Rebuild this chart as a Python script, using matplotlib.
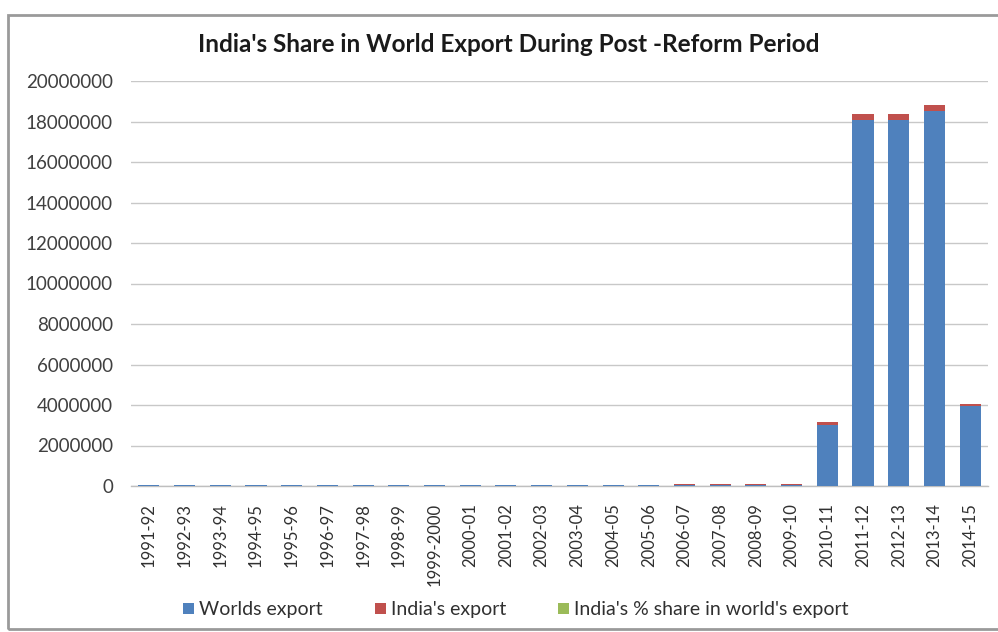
import matplotlib
matplotlib.use("Agg")
import matplotlib.pyplot as plt
from matplotlib.patches import Rectangle
import numpy as np

plt.rcParams['font.family'] = ['Lato', 'DejaVu Sans']

years = ["1991-92", "1992-93", "1993-94", "1994-95", "1995-96", "1996-97", "1997-98",
         "1998-99", "1999-2000", "2000-01", "2001-02", "2002-03", "2003-04", "2004-05",
         "2005-06", "2006-07", "2007-08", "2008-09", "2009-10", "2010-11", "2011-12",
         "2012-13", "2013-14", "2014-15"]
worlds_export = [45000, 46000, 47000, 48000, 50000, 51000, 52000, 51000, 53000, 55000,
                 54000, 56000, 58000, 60000, 62000, 63000, 65000, 60000, 62000,
                 3030000, 18050000, 18050000, 18530000, 3930000]
india_export = [1800, 1900, 2200, 2600, 3100, 3300, 3500, 3300, 3700, 4400,
                4400, 5300, 6400, 8400, 10300, 12600, 16300, 18500, 17900,
                150000, 300000, 300000, 280000, 100000]
india_share = [0.51, 0.53, 0.58, 0.61, 0.63, 0.62, 0.65, 0.64, 0.68, 0.73,
               0.76, 0.82, 0.88, 0.95, 1.03, 1.1, 1.12, 1.26, 1.34,
               1.5, 1.7, 1.65, 1.7, 1.65]
series_names = ["Worlds export", "India's export", "India's % share in world's export"]
colors = ["#4F81BD", "#C0504D", "#9BBB59"]
yticks = list(range(0, 20000001, 2000000))

W, H = 998, 632
fig = plt.figure(figsize=(W / 100, H / 100), dpi=100)
fig.patch.set_facecolor("white")

# outer chart frame
fig.patches.append(Rectangle((8 / W, 1 - 629 / H), (1010 - 8) / W, (629 - 15) / H,
                             transform=fig.transFigure, fill=False,
                             edgecolor="#9A9A9A", linewidth=2.0, zorder=0))

ax = fig.add_axes([131 / W, 1 - 486 / H, (988 - 131) / W, (486 - 81) / H])
x = np.arange(len(years))
bw = 0.59
b1 = ax.bar(x, worlds_export, bw, color=colors[0], label=series_names[0], zorder=3)
b2 = ax.bar(x, india_export, bw, bottom=worlds_export, color=colors[1],
            label=series_names[1], zorder=3)
bottom2 = np.array(worlds_export) + np.array(india_export)
b3 = ax.bar(x, india_share, bw, bottom=bottom2, color=colors[2],
            label=series_names[2], zorder=3)

ax.set_xlim(-0.5, len(years) - 0.5)
ax.set_ylim(0, 20000000)
ax.set_yticks(yticks)
ax.set_yticklabels([str(v) for v in yticks], fontsize=13.5, color="#404040")
ax.set_xticks(x)
ax.set_xticklabels(years, rotation=90, fontsize=12, color="#303030")
ax.tick_params(axis='both', length=0)
ax.tick_params(axis='y', pad=13)
ax.tick_params(axis='x', pad=12)
ax.grid(axis='y', color="#C8C8C8", linewidth=1.0, zorder=0)
for s in ["top", "right", "left"]:
    ax.spines[s].set_visible(False)
ax.spines["bottom"].set_color("#BFBFBF")
ax.spines["bottom"].set_linewidth(1.0)

fig.text(509 / W, 1 - 45 / H, "India's Share in World Export During Post -Reform Period",
         ha="center", va="center", fontsize=17.5, fontweight="bold", color="#1A1A1A")

leg = fig.legend(handles=[b1, b2, b3], labels=series_names, loc="center",
                 bbox_to_anchor=(516 / W, 1 - 610 / H), ncol=3, frameon=False,
                 fontsize=14, handlelength=0.55, handleheight=0.55,
                 handletextpad=0.25, columnspacing=2.7)
for t in leg.get_texts():
    t.set_color("#303030")

fig.savefig("out.png", dpi=100, facecolor="white")
